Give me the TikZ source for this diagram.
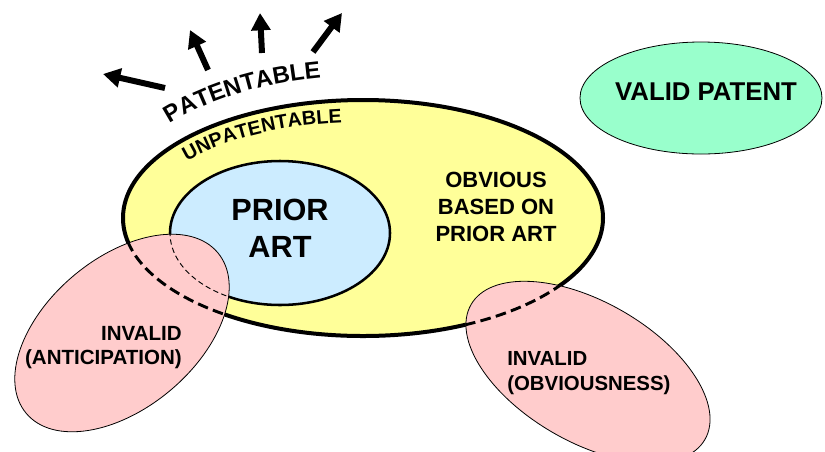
\documentclass[tikz,border=0pt]{standalone}
\usepackage{fontspec}
\setmainfont{Liberation Sans}
\usetikzlibrary{arrows.meta,shapes.geometric,calc}
\definecolor{yel}{HTML}{FFFF99}
\definecolor{pri}{HTML}{CCECFF}
\definecolor{pnk}{HTML}{FFCCCC}
\definecolor{mnt}{HTML}{99FFCC}
% letter on an ellipse arc centred at (363,218): #1 name, #2 angle, #3 x radius, #4 y radius, #5 font size, #6 letter
\newcommand\curvlet[6]{%
  \pgfmathsetmacro\cang{atan2(-(#4)*cos(#2), -(#3)*sin(#2))}%
  \pgfmathsetmacro\coff{0.36*#5}%
  \node[inner sep=0pt, anchor=center, font=\bfseries\fontsize{#5}{#5}\selectfont] (#1)
    at ($({363+#3*cos(#2)},{218+#4*sin(#2)}) + (\cang+90:\coff pt)$)
    {\rotatebox[origin=c]{\cang}{#6}};}
\begin{document}
\begin{tikzpicture}[x=0.75pt,y=-0.75pt,
  lbl/.style={inner sep=0pt, font=\bfseries},
  bigarrow/.style={line width=4.5pt, -{Triangle[length=13pt,width=14pt]}},
  pinkell/.style={draw=black, line width=0.6pt, fill=pnk},
  thickdash/.style={line width=2.2pt, dash pattern=on 8pt off 4pt},
  thindash/.style={line width=0.7pt, dash pattern=on 4pt off 2.5pt}]
\useasboundingbox (0,0) rectangle (825,451);

% outer (unpatentable) region
\path[draw=black, line width=3pt, fill=yel] (363,218) ellipse [x radius=240, y radius=118];
% prior art
\path[draw=black, line width=1.9pt, fill=pri] (280,233) ellipse [x radius=110, y radius=72];

% invalid anticipation
\path[pinkell, rotate around={40:(122,333)}] (122,333) ellipse [x radius=125, y radius=75];
\begin{scope}
  \clip[rotate around={40:(122,333)}] (122,333) ellipse [x radius=125, y radius=75];
  \draw[thickdash] (363,218) ellipse [x radius=240, y radius=118];
  \draw[thindash] (280,233) ellipse [x radius=110, y radius=72];
\end{scope}

% invalid obviousness
\path[pinkell, rotate around={-30:(588,372)}] (588,372) ellipse [x radius=135, y radius=70];
\begin{scope}
  \clip[rotate around={-30:(588,372)}] (588,372) ellipse [x radius=135, y radius=70];
  \draw[thickdash] (363,218) ellipse [x radius=240, y radius=118];
\end{scope}

% valid patent
\path[draw=black, line width=0.6pt, fill=mnt] (701,98) ellipse [x radius=121, y radius=56];

% texts
\node[lbl, font=\bfseries\fontsize{19.3}{22}\selectfont] (valid) at (706,92) {VALID PATENT};
\node[lbl, align=center, font=\bfseries\fontsize{23}{28}\selectfont] (prior) at (280,228) {PRIOR\\ART};
\node[lbl, align=center, font=\bfseries\fontsize{16.5}{20}\selectfont] (obv) at (496,207) {OBVIOUS\\BASED ON\\PRIOR ART};
\node[lbl, align=right, anchor=east, font=\bfseries\fontsize{15.4}{18}\selectfont] (inva) at (182,348) {INVALID\\(ANTICIPATION)};
\node[lbl, align=left, anchor=west, font=\bfseries\fontsize{15.3}{19}\selectfont] (invo) at (507,373) {INVALID\\(OBVIOUSNESS)};

% curved label PATENTABLE
\curvlet{p1}{-136.47}{257}{142}{17.8}{P}
\curvlet{p2}{-131.92}{257}{142}{17.8}{A}
\curvlet{p3}{-127.78}{257}{142}{17.8}{T}
\curvlet{p4}{-123.95}{257}{142}{17.8}{E}
\curvlet{p5}{-119.91}{257}{142}{17.8}{N}
\curvlet{p6}{-115.99}{257}{142}{17.8}{T}
\curvlet{p7}{-112.26}{257}{142}{17.8}{A}
\curvlet{p8}{-108.21}{257}{142}{17.8}{B}
\curvlet{p9}{-104.60}{257}{142}{17.8}{L}
\curvlet{p10}{-101.15}{257}{142}{17.8}{E}

% curved label UNPATENTABLE
\curvlet{u1}{-141.15}{218}{95.5}{14.8}{U}
\curvlet{u2}{-136.09}{218}{95.5}{14.8}{N}
\curvlet{u3}{-131.58}{218}{95.5}{14.8}{P}
\curvlet{u4}{-127.19}{218}{95.5}{14.8}{A}
\curvlet{u5}{-123.19}{218}{95.5}{14.8}{T}
\curvlet{u6}{-119.35}{218}{95.5}{14.8}{E}
\curvlet{u7}{-115.37}{218}{95.5}{14.8}{N}
\curvlet{u8}{-111.67}{218}{95.5}{14.8}{T}
\curvlet{u9}{-108.02}{218}{95.5}{14.8}{A}
\curvlet{u10}{-104.14}{218}{95.5}{14.8}{B}
\curvlet{u11}{-100.62}{218}{95.5}{14.8}{L}
\curvlet{u12}{-97.25}{218}{95.5}{14.8}{E}

% arrows
\coordinate (a1s) at (165,88);  \coordinate (a1e) at (103,74);
\coordinate (a2s) at (208,70);  \coordinate (a2e) at (190,30);
\coordinate (a3s) at (262,53);  \coordinate (a3e) at (260,13);
\coordinate (a4s) at (313,52);  \coordinate (a4e) at (342,13);
\draw[bigarrow] (a1s) -- (a1e);
\draw[bigarrow] (a2s) -- (a2e);
\draw[bigarrow] (a3s) -- (a3e);
\draw[bigarrow] (a4s) -- (a4e);
\end{tikzpicture}
\end{document}
